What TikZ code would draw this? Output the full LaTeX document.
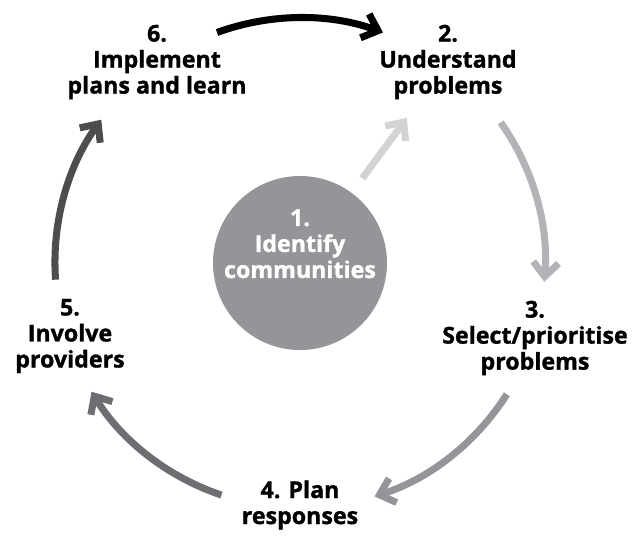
\documentclass[tikz,border=0pt]{standalone}
\usepackage{fontspec}
\setmainfont{Open Sans}[BoldFeatures={FakeBold=1.2}]
\usetikzlibrary{positioning,arrows.meta}

\definecolor{ring1}{HTML}{D1D3D4}
\definecolor{ring2}{HTML}{B1B3B6}
\definecolor{ring3}{HTML}{939598}
\definecolor{ring4}{HTML}{6D6E71}
\definecolor{ring5}{HTML}{4D4D4F}

\begin{document}
\begin{tikzpicture}[on grid,
        lbl/.style={align=center, inner sep=1pt, font=\bfseries\fontsize{16.5}{18.5}\selectfont},
        hub/.style={circle, fill=ring3, minimum size=4.35cm, inner sep=0pt, outer sep=0pt},
        cyc/.style={line width=5pt, -{Straight Barb[length=10pt, width=18pt, sharp]}},
        ring/.style={cyc, bend left=20, looseness=0.88}]
            \useasboundingbox (-7.5,-6.875) rectangle (8.4,6.575);

            \node[hub] (com) {};
            \node[lbl, text=white, above=0.48cm of com] (comtxt) {1.\\Identify\\communities};
            \node[lbl, above right=5.025cm and 3.7cm of com] (und) {2.\\Understand\\problems};
            \node[lbl, below right=1.875cm and 5.875cm of com] (sel) {3.\\Select/prioritise\\problems};
            \node[lbl, below=6.05cm of com] (pla) {4. Plan\\responses};
            \node[lbl, below left=1.825cm and 5.75cm of com] (inv) {5.\\Involve\\providers};
            \node[lbl, above left=5.025cm and 3.575cm of com] (imp) {6.\\Implement\\plans and learn};

            \coordinate (s2) at (35:6.125);
            \coordinate (e3) at (-4.4:6.125);
            \coordinate (s3) at (-32.4:6.125);
            \coordinate (e4) at (-72.3:6.125);
            \coordinate (s4) at (-108.7:6.125);
            \coordinate (e5) at (-148.3:6.125);
            \coordinate (s5) at (-176.1:6.125);
            \coordinate (e6) at (144.2:6.125);
            \coordinate (s6) at (109.8:6.125);
            \coordinate (e2) at (70.2:6.125);

            \path (com) edge[cyc, ring1, shorten <=0.45cm, shorten >=0.53cm] (und);
            \path (s2) edge[ring, ring2] (e3);
            \path (s3) edge[ring, ring3] (e4);
            \path (s4) edge[ring, ring4] (e5);
            \path (s5) edge[ring, ring5] (e6);
            \path (s6) edge[ring, black] (e2);
        \end{tikzpicture}
\end{document}
